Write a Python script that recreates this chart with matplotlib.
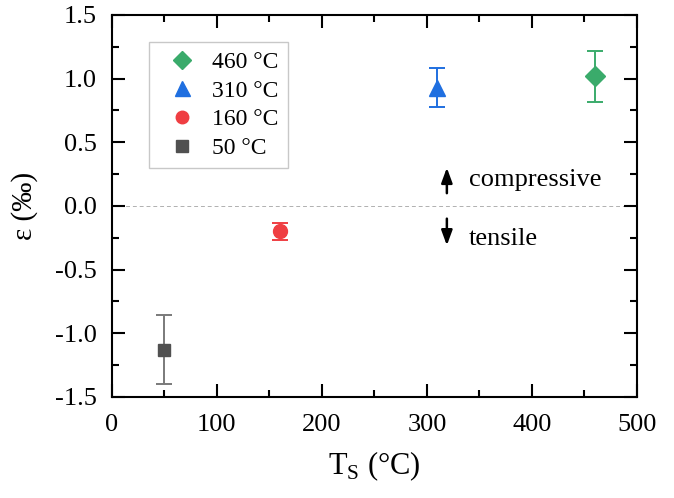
import matplotlib
matplotlib.use('Agg')
import matplotlib.pyplot as plt
from matplotlib.ticker import MultipleLocator
from matplotlib.lines import Line2D

plt.rcParams['font.family'] = ['Liberation Serif', 'DejaVu Serif']
plt.rcParams['mathtext.fontset'] = 'custom'
plt.rcParams['mathtext.rm'] = 'Liberation Serif'

# データ
temps = [460, 310, 160, 50]
labels = ['460 °C', '310 °C', '160 °C', '50 °C']
strain = [1.02, 0.93, -0.20, -1.13]
strain_err = [0.20, 0.155, 0.065, 0.27]
markers = ['D', '^', 'o', 's']
colors = ['#3aab6b', '#1f6fe0', '#ef3e42', '#505050']
err_colors = ['#3aab6b', '#1f6fe0', '#ef3e42', '#7a7a7a']
msizes = [10.5, 12, 10, 9]
ytick_vals = [-1.5, -1.0, -0.5, 0.0, 0.5, 1.0, 1.5]
ytick_labels = ['-1.5', '-1.0', '-0.5', '0.0', '0.5', '1.0', '1.5']

fig = plt.figure(figsize=(6.74, 4.98), dpi=100)
ax = fig.add_axes([0.166, 0.203, 0.779, 0.767])

ax.axhline(0, color='#b0b0b0', linestyle=(0, (4, 3)), linewidth=0.7, zorder=1)

handles = []
for t, s, e, m, c, ec, ms, lab in zip(temps, strain, strain_err, markers,
                                       colors, err_colors, msizes, labels):
    ax.errorbar(t, s, yerr=e, fmt=m, color=c, ecolor=ec, markersize=ms,
                capsize=6, elinewidth=1.4, capthick=1.4, zorder=3)
    handles.append(Line2D([], [], linestyle='none', marker=m, color=c,
                          markersize=ms * 0.9, label=lab))

ax.set_xlim(0, 500)
ax.set_ylim(-1.5, 1.5)
ax.xaxis.set_major_locator(MultipleLocator(100))
ax.xaxis.set_minor_locator(MultipleLocator(50))
ax.set_yticks(ytick_vals)
ax.set_yticklabels(ytick_labels)
ax.yaxis.set_minor_locator(MultipleLocator(0.25))

ax.tick_params(which='both', direction='in', top=True, right=True,
               width=1.5, labelsize=19)
ax.tick_params(axis='x', which='major', length=9.5, pad=12)
ax.tick_params(axis='y', which='major', length=9.5, pad=11)
ax.tick_params(which='minor', length=5)
for sp in ax.spines.values():
    sp.set_linewidth(1.5)

ax.set_xlabel('T$_\\mathrm{S}$ (°C)', fontsize=22, labelpad=10)
ax.set_ylabel('ε (‰)', fontsize=21, labelpad=12)

# 矢印と注記
arr = dict(arrowstyle='-|>,head_length=0.9,head_width=0.33', color='black',
           lw=1.8, shrinkA=0, shrinkB=0)
ax.annotate('', xy=(319, 0.30), xytext=(319, 0.10), arrowprops=arr)
ax.annotate('', xy=(319, -0.31), xytext=(319, -0.10), arrowprops=arr)
ax.text(340, 0.20, 'compressive', fontsize=19, va='center', ha='left')
ax.text(340, -0.26, 'tensile', fontsize=19, va='center', ha='left')

leg = ax.legend(handles=handles, loc='upper left', bbox_to_anchor=(0.070, 0.929),
                borderaxespad=0, fontsize=17, frameon=True, fancybox=False,
                edgecolor='#bbbbbb', handletextpad=0.3, labelspacing=0.3,
                borderpad=0.4, handlelength=2.0)
leg.get_frame().set_linewidth(1.0)

fig.savefig('out.png', dpi=100)
